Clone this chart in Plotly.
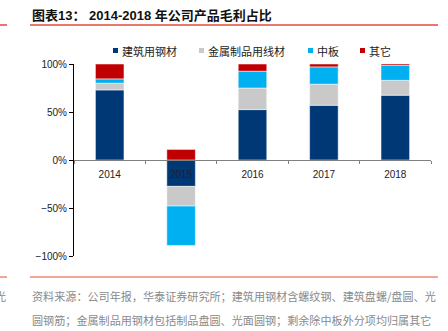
import plotly.graph_objects as go

years = ["2014", "2015", "2016", "2017", "2018"]
series_names = ["建筑用钢材", "金属制品用线材", "中板", "其它"]
construction = [73, -27.5, 52.5, 57, 67.5]
wire = [7, -20.5, 22.5, 22, 15.5]
plate = [4.5, -41, 17.5, 18, 15.5]
other = [15.5, 11, 7.5, 3, 1.5]
colors = ["#003876", "#C9C9C9", "#00B0F0", "#C00000"]
ytick_vals = [-100, -50, 0, 50, 100]
ytick_text = ["−100%", "−50%", "0%", "50%", "100%"]

title_text = "图表13： 2014-2018 年公司产品毛利占比"
source_lines = ["资料来源：公司年报，华泰证券研究所；建筑用钢材含螺纹钢、建筑盘螺/盘圆、光",
                "圆钢筋；金属制品用钢材包括制品盘圆、光面圆钢；剩余除中板外分项均归属其它"]

W, H = 448, 331
L, R, T, B = 74, 431, 64, 256

def px(x):
    return (x - L) / (R - L)

def py(y):
    return (B - y) / (B - T)

fig = go.Figure()
for name, vals, c in zip(series_names, [construction, wire, plate, other], colors):
    fig.add_trace(go.Bar(x=years, y=vals, name=name, marker=dict(color=c, line=dict(color="rgba(255,255,255,0.5)", width=1)),
                         width=0.4, showlegend=False))

cjk = "Noto Sans CJK SC"
ann = []
ann.append(dict(x=px(30), y=py(15), xref="paper", yref="paper", text="<b>" + title_text + "</b>", showarrow=False,
                xanchor="left", yanchor="middle", font=dict(family="Liberation Sans, " + cjk, size=13, color="#111111")))
for i, line in enumerate(source_lines):
    ann.append(dict(x=px(30), y=py(296 + 24 * i), xref="paper", yref="paper", text=line, showarrow=False,
                    xanchor="left", yanchor="middle", font=dict(family=cjk, size=11.1, color="#8a8a8a")))
ann.append(dict(x=px(8), y=py(296), xref="paper", yref="paper", text="光", showarrow=False,
                xanchor="right", yanchor="middle", font=dict(family=cjk, size=11.1, color="#8a8a8a")))

leg_sq = [113, 199, 308, 360]
leg_tx = [120, 206, 315, 367]
shapes = []
for name, c, sx, tx in zip(series_names, colors, leg_sq, leg_tx):
    shapes.append(dict(type="rect", xref="paper", yref="paper", x0=px(sx), x1=px(sx + 5), y0=py(48), y1=py(53),
                       fillcolor=c, line=dict(width=0)))
    ann.append(dict(x=px(tx), y=py(50.5), xref="paper", yref="paper", text=name, showarrow=False,
                    xanchor="left", yanchor="middle", font=dict(family=cjk, size=11, color="#222222")))

shapes.append(dict(type="line", xref="paper", yref="paper", x0=px(30), x1=px(438), y0=py(25), y1=py(25),
                   line=dict(color="#E04A3C", width=1.5)))
shapes.append(dict(type="line", xref="paper", yref="paper", x0=px(0), x1=px(7), y0=py(25), y1=py(25),
                   line=dict(color="#E04A3C", width=1.5)))
shapes.append(dict(type="line", xref="paper", yref="paper", x0=px(30), x1=px(438), y0=py(277), y1=py(277),
                   line=dict(color="#F2A696", width=2)))
shapes.append(dict(type="line", xref="paper", yref="paper", x0=px(0), x1=px(7), y0=py(277), y1=py(277),
                   line=dict(color="#F2A696", width=2)))

fig.update_layout(
    width=W, height=H, margin=dict(l=L, r=W - R, t=T, b=H - B),
    barmode="relative", plot_bgcolor="white", paper_bgcolor="white",
    annotations=ann, shapes=shapes, bargap=0.6,
    xaxis=dict(anchor="free", position=0.5, showline=True, linecolor="#808080", linewidth=1,
               ticks="outside", tickson="boundaries", ticklen=3, tickcolor="#808080",
               ticklabelstandoff=5,
               tickfont=dict(family="Liberation Sans", size=10, color="#222222"), showgrid=False,
               zeroline=False),
    yaxis=dict(range=[-100, 100], tickvals=ytick_vals, ticktext=ytick_text, showline=True, linecolor="#000000",
               linewidth=1, ticks="outside", ticklen=4, tickcolor="#000000", showgrid=False, zeroline=False,
               tickfont=dict(family="Liberation Sans", size=10, color="#222222")),
)
fig.write_html("out.html")
